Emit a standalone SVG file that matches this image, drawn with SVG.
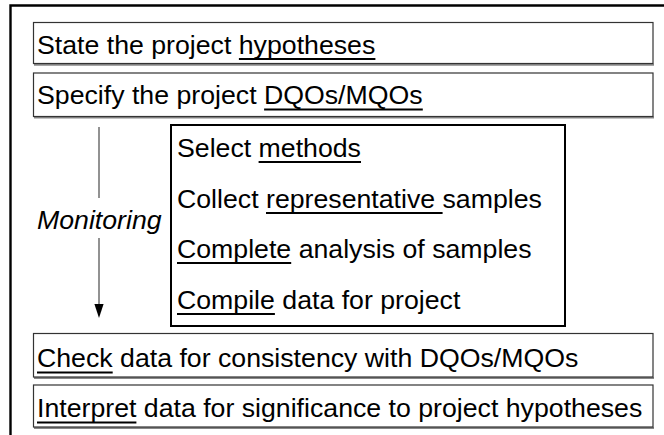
<svg xmlns="http://www.w3.org/2000/svg" width="664" height="435" viewBox="0 0 664 435">
<style>
  .t { font-family: "Liberation Sans", Arial, sans-serif; font-size: 26.7px; fill: #000; }
  .it { font-style: italic; }
  .box { fill: #fff; stroke: #333; stroke-width: 1.2; }
  .shadow { stroke: #888; stroke-width: 2; fill: none; }
  .inner { fill: #fff; stroke: #000; stroke-width: 2; }
  .ul { stroke: #000; stroke-width: 2.2; fill: none; }
  .conn { stroke: #777; stroke-width: 1.6; fill: none; }
</style>
<defs>
  <marker id="arrow" markerUnits="userSpaceOnUse" markerWidth="16" markerHeight="10" refX="0" refY="4.6" orient="auto">
    <path d="M0,0 L14,4.6 L0,9.2 Z" fill="#000"/>
  </marker>
</defs>
<rect width="664" height="435" fill="#fff"/>
<g id="frame">
  <path d="M10.5,437 V5.5 H666" fill="none" stroke="#000" stroke-width="2.4"/>
</g>
<g id="node-hypotheses">
  <line class="shadow" x1="34" y1="64.8" x2="654" y2="64.8"/>
  <rect class="box" x="33.5" y="22.5" width="619.5" height="41"/>
  <text class="t" x="37" y="53.5">State the project hypotheses</text>
  <line class="ul" x1="238.9" y1="59" x2="375.4" y2="59"/>
</g>
<g id="node-dqos">
  <line class="shadow" x1="34" y1="117.5" x2="654" y2="117.5"/>
  <rect class="box" x="33.5" y="73" width="619.5" height="43.5"/>
  <text class="t" x="37" y="104">Specify the project DQOs/MQOs</text>
  <line class="ul" x1="264.1" y1="109.5" x2="422.8" y2="109.5"/>
</g>
<g id="node-steps">
  <rect class="inner" x="171" y="125" width="394" height="201"/>
  <text class="t" x="177" y="157">Select methods</text>
  <line class="ul" x1="258.6" y1="162" x2="361" y2="162"/>
  <text class="t" x="177" y="208">Collect representative samples</text>
  <line class="ul" x1="266" y1="213" x2="442.6" y2="213"/>
  <text class="t" x="177" y="258">Complete analysis of samples</text>
  <line class="ul" x1="177" y1="263" x2="291.2" y2="263"/>
  <text class="t" x="177" y="309">Compile data for project</text>
  <line class="ul" x1="177" y1="314" x2="274.9" y2="314"/>
</g>
<g id="node-check">
  <line class="shadow" x1="34" y1="378" x2="654" y2="378"/>
  <rect class="box" x="33.5" y="333.5" width="619.5" height="43.5"/>
  <text class="t" x="37" y="367">Check data for consistency with DQOs/MQOs</text>
  <line class="ul" x1="37" y1="372.5" x2="112.7" y2="372.5"/>
</g>
<g id="node-interpret">
  <line class="shadow" x1="34" y1="428" x2="654" y2="428"/>
  <rect class="box" x="33.5" y="385" width="619.5" height="42"/>
  <text class="t" x="37" y="417">Interpret data for significance to project hypotheses</text>
  <line class="ul" x1="37" y1="422.5" x2="136.4" y2="422.5"/>
</g>
<g id="connectors">
  <line class="conn" x1="99" y1="127" x2="99" y2="198"/>
  <line class="conn" x1="99" y1="238" x2="99" y2="304" marker-end="url(#arrow)"/>
  <text class="t it" x="37" y="229">Monitoring</text>
</g>
</svg>
